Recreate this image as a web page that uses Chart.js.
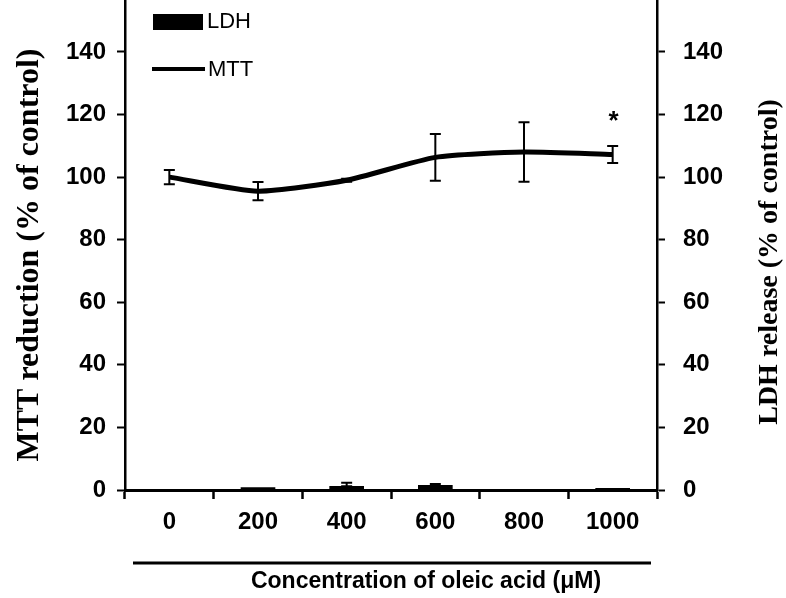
<!DOCTYPE html>
<html>
<head>
<meta charset="utf-8">
<script src="https://cdn.jsdelivr.net/npm/chart.js@4.4.1/dist/chart.umd.min.js"></script>
<style>
  body { margin: 0; background: #fff; }
  canvas { display: block; }
</style>
</head>
<body>
<canvas id="oleic_chart" width="786" height="598"></canvas>
<script>
// data
var categories = ["0", "200", "400", "600", "800", "1000"];
var mttValues = [100, 95.5, 99, 106.3, 108, 107.2];
var mttErrors = [2.3, 2.9, 0.5, 7.5, 9.5, 2.7];
var ldhValues = [0, 0.8, 1.2, 1.5, 0, 0.5];
var ldhErrors = [0, 0, 1.1, 0.4, 0, 0];
var marks = ["", "", "", "", "", "*"];
var yTicks = [0, 20, 40, 60, 80, 100, 120, 140];

var tickFont = { family: "Liberation Sans", size: 24, weight: "bold" };

// error bars, significance marks, legend, bottom rule and titles
var extras = {
  id: 'extras',
  afterDatasetsDraw: function(chart) {
    var ctx = chart.ctx;
    var y = chart.scales.y, y2 = chart.scales.y2;
    var mttMeta = chart.getDatasetMeta(0);
    var ldhMeta = chart.getDatasetMeta(1);
    ctx.save();
    ctx.strokeStyle = '#000';
    ctx.lineWidth = 2;
    function errBar(x, top, bottom) {
      ctx.beginPath();
      ctx.moveTo(x, top); ctx.lineTo(x, bottom);
      ctx.moveTo(x - 5.5, top); ctx.lineTo(x + 5.5, top);
      ctx.moveTo(x - 5.5, bottom); ctx.lineTo(x + 5.5, bottom);
      ctx.stroke();
    }
    for (var i = 0; i < categories.length; i++) {
      var x = mttMeta.data[i].x;
      errBar(x, y.getPixelForValue(mttValues[i] + mttErrors[i]), y.getPixelForValue(mttValues[i] - mttErrors[i]));
      if (ldhErrors[i] > 0) {
        var bx = ldhMeta.data[i].x;
        errBar(bx, y2.getPixelForValue(ldhValues[i] + ldhErrors[i]), y2.getPixelForValue(ldhValues[i]));
      }
      if (marks[i]) {
        ctx.fillStyle = '#000';
        ctx.font = 'bold 26px "Liberation Sans"';
        ctx.textAlign = 'center';
        ctx.textBaseline = 'middle';
        ctx.fillText(marks[i], x + 1, y.getPixelForValue(mttValues[i] + mttErrors[i]) - 24);
      }
    }
    ctx.restore();
  },
  afterDraw: function(chart) {
    var ctx = chart.ctx;
    ctx.save();
    ctx.fillStyle = '#000';
    ctx.strokeStyle = '#000';
    // legend
    ctx.fillRect(153, 14, 50, 16);
    ctx.lineWidth = 4;
    ctx.beginPath();
    ctx.moveTo(152, 69); ctx.lineTo(205, 69);
    ctx.stroke();
    ctx.font = '22px "Liberation Sans"';
    ctx.textAlign = 'left';
    ctx.textBaseline = 'middle';
    ctx.fillText('LDH', 207, 22);
    ctx.fillText('MTT', 208, 70);
    // rule under the tick labels
    ctx.lineWidth = 3;
    ctx.beginPath();
    ctx.moveTo(133, 563); ctx.lineTo(651, 563);
    ctx.stroke();
    // x title
    ctx.font = 'bold 23px "Liberation Sans"';
    ctx.textAlign = 'center';
    ctx.fillText('Concentration of oleic acid (\u03bcM)', 426, 582);
    // axis titles, both reading bottom to top
    ctx.save();
    ctx.translate(30, 255);
    ctx.rotate(-Math.PI / 2);
    ctx.font = 'bold 32px "Liberation Serif"';
    ctx.fillText('MTT reduction (% of control)', 0, 0);
    ctx.restore();
    ctx.translate(770, 262);
    ctx.rotate(-Math.PI / 2);
    ctx.font = 'bold 28px "Liberation Serif"';
    ctx.fillText('LDH release (% of control)', 0, 0);
    ctx.restore();
  }
};

function yAxis(pos, width) {
  return {
    position: pos,
    min: 0,
    max: 156.6,
    afterBuildTicks: function(s) { s.ticks = yTicks.map(function(v) { return { value: v }; }); },
    afterFit: function(s) { s.width = width; s.paddingTop = 0; s.paddingBottom = 0; },
    ticks: { color: '#000', font: tickFont, padding: pos === 'left' ? 11 : 18 },
    grid: { drawOnChartArea: false, tickLength: 8, tickColor: '#000', tickWidth: 2 },
    border: { color: '#000', width: 2.5 }
  };
}

var ctx = document.getElementById("oleic_chart").getContext('2d');
var oleic_chart = new Chart(ctx, {
  data: {
    labels: categories,
    datasets: [{
      type: 'line',
      label: 'MTT',
      data: mttValues,
      yAxisID: 'y',
      borderColor: '#000',
      borderWidth: 5,
      pointRadius: 0,
      tension: 0.2,
      order: 0
    }, {
      type: 'bar',
      label: 'LDH',
      data: ldhValues,
      yAxisID: 'y2',
      backgroundColor: '#000',
      barThickness: 34,
      order: 1
    }]
  },
  plugins: [extras],
  options: {
    responsive: false,
    devicePixelRatio: 1,
    animation: false,
    layout: { padding: 0 },
    plugins: { legend: { display: false }, tooltip: { enabled: false } },
    scales: {
      x: {
        offset: true,
        afterFit: function(s) { s.height = 108; },
        ticks: { color: '#000', font: tickFont, padding: 9 },
        grid: { offset: true, drawOnChartArea: false, tickLength: 9, tickColor: '#000', tickWidth: 2.5 },
        border: { color: '#000', width: 3 }
      },
      y: yAxis('left', 125),
      y2: yAxis('right', 129)
    }
  }
});
</script>
</body>
</html>
